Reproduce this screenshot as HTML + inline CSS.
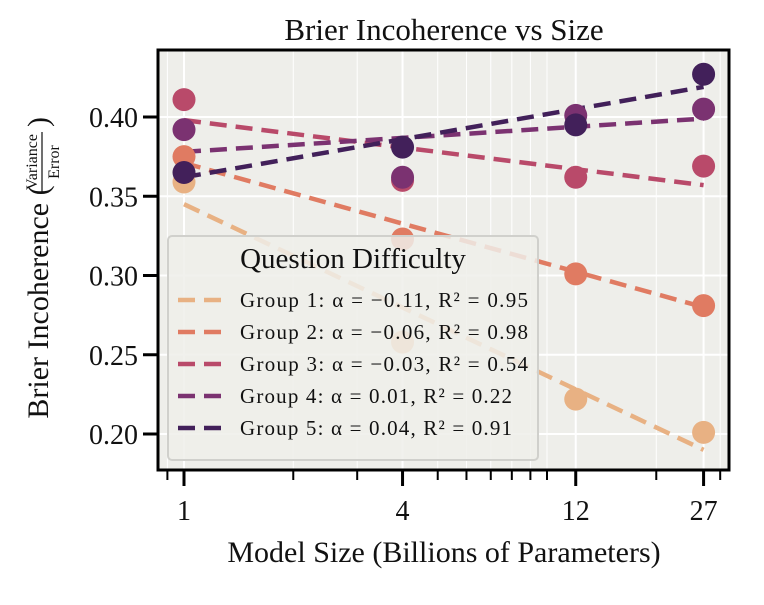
<!DOCTYPE html>
<html><head><meta charset="utf-8"><style>
body{margin:0;background:#fff}
text{font-family:"Liberation Serif",serif;fill:#111}
</style></head><body>
<svg id="chart" width="764" height="600" xmlns="http://www.w3.org/2000/svg">
<rect x="158" y="50" width="571" height="420" fill="#eeeeea"/>
<g id="grid"></g>
<g id="fits"></g>
<g id="pts"></g>
<rect x="158" y="50" width="571" height="420" fill="none" stroke="#000" stroke-width="3"/>
<g id="axes"></g>
<text x="444" y="40" font-size="31" text-anchor="middle">Brier Incoherence vs Size</text>
<text x="444" y="562" font-size="30" text-anchor="middle">Model Size (Billions of Parameters)</text>
<g transform="translate(48,262) rotate(-90)">
<text x="-40" y="0" font-size="30" text-anchor="middle">Brier Incoherence (</text>
<text x="100" y="-11" font-size="16" text-anchor="middle">Variance</text>
<line x1="70" y1="-6" x2="130" y2="-6" stroke="#111" stroke-width="1.2"/>
<text x="100" y="11" font-size="16" text-anchor="middle">Error</text>
<text x="140" y="0" font-size="30" text-anchor="middle">)</text>
</g>
<g id="legend">
<rect x="168" y="236" width="370" height="224" rx="4" fill="#eeeeea" fill-opacity="0.85" stroke="#d0d0cc" stroke-width="2"/>
<text x="353" y="268" font-size="29" text-anchor="middle">Question Difficulty</text>
</g>
</svg>
<script>
const sizes=[1,4,12,27];
const groups=["Group 1","Group 2","Group 3","Group 4","Group 5"];
const g1=[0.359,0.258,0.222,0.201];
const g2=[0.375,0.323,0.301,0.281];
const g3=[0.411,0.360,0.362,0.369];
const g4=[0.392,0.362,0.401,0.405];
const g5=[0.365,0.381,0.395,0.427];
const fitStart=[0.345,0.371,0.398,0.378,0.362];
const fitEnd=[0.190,0.280,0.357,0.399,0.419];
const legendLabels=["Group 1: α = −0.11, R² = 0.95","Group 2: α = −0.06, R² = 0.98","Group 3: α = −0.03, R² = 0.54","Group 4: α = 0.01, R² = 0.22","Group 5: α = 0.04, R² = 0.91"];
const yTicks=[0.20,0.25,0.30,0.35,0.40];
const xTicks=[1,4,12,27];
const xMinor=[0.9,2,3,5,6,7,8,9,10,20,30];
const colors=["#e8b183","#e07b62","#b94a6a","#7b3271","#42205a"];
const series=[g1,g2,g3,g4,g5];
const NS="http://www.w3.org/2000/svg";
const X=v=>184+363*Math.log10(v);
const Y=v=>117+(0.40-v)*1585;
function mk(t,a,p){const e=document.createElementNS(NS,t);for(const k in a)e.setAttribute(k,a[k]);p.appendChild(e);return e;}
const grid=document.getElementById('grid'),axes=document.getElementById('axes');
xMinor.forEach(v=>{const x=X(v);
const l=mk('line',{x1:x,x2:x,y1:50,y2:470,stroke:'#fff','stroke-width':1},grid);

const t=mk('line',{x1:x,x2:x,y1:470,y2:480,stroke:'#000','stroke-width':2},axes);
});
xTicks.forEach(v=>{const x=X(v);
const l=mk('line',{x1:x,x2:x,y1:50,y2:470,stroke:'#fff','stroke-width':2},grid);

const t=mk('line',{x1:x,x2:x,y1:470,y2:486,stroke:'#000','stroke-width':3},axes);

const tx=mk('text',{x:x,y:520,'font-size':28,'text-anchor':'middle'},axes);tx.textContent=v;
});
yTicks.forEach(v=>{const y=Y(v);
const l=mk('line',{x1:158,x2:729,y1:y,y2:y,stroke:'#fff','stroke-width':2},grid);

const t=mk('line',{x1:143,x2:158,y1:y,y2:y,stroke:'#000','stroke-width':3},axes);

const tx=mk('text',{x:138,y:y+10,'font-size':28,'text-anchor':'end'},axes);tx.textContent=v.toFixed(2);
});
const fits=document.getElementById('fits'),pts=document.getElementById('pts');
series.forEach((s,i)=>{
s.forEach((v,j)=>{const c=mk('circle',{cx:X(sizes[j]),cy:Y(v),r:11.5,fill:colors[i]},pts);
});});
series.forEach((s,i)=>{
const l=mk('line',{x1:X(sizes[0]),y1:Y(fitStart[i]),x2:X(sizes[3]),y2:Y(fitEnd[i]),stroke:colors[i],'stroke-width':4.5,'stroke-dasharray':'17 9'},fits);
});
const leg=document.getElementById('legend');
legendLabels.forEach((t,i)=>{const y=309+i*32;
const l=mk('line',{x1:178,x2:222,y1:y-9,y2:y-9,stroke:colors[i],'stroke-width':4.5,'stroke-dasharray':'17 9'},leg);

const tx=mk('text',{x:240,y:y-2,'font-size':21,textLength:(i<3?288:272),lengthAdjust:'spacing'},leg);tx.textContent=t;
});
</script>
</body></html>
